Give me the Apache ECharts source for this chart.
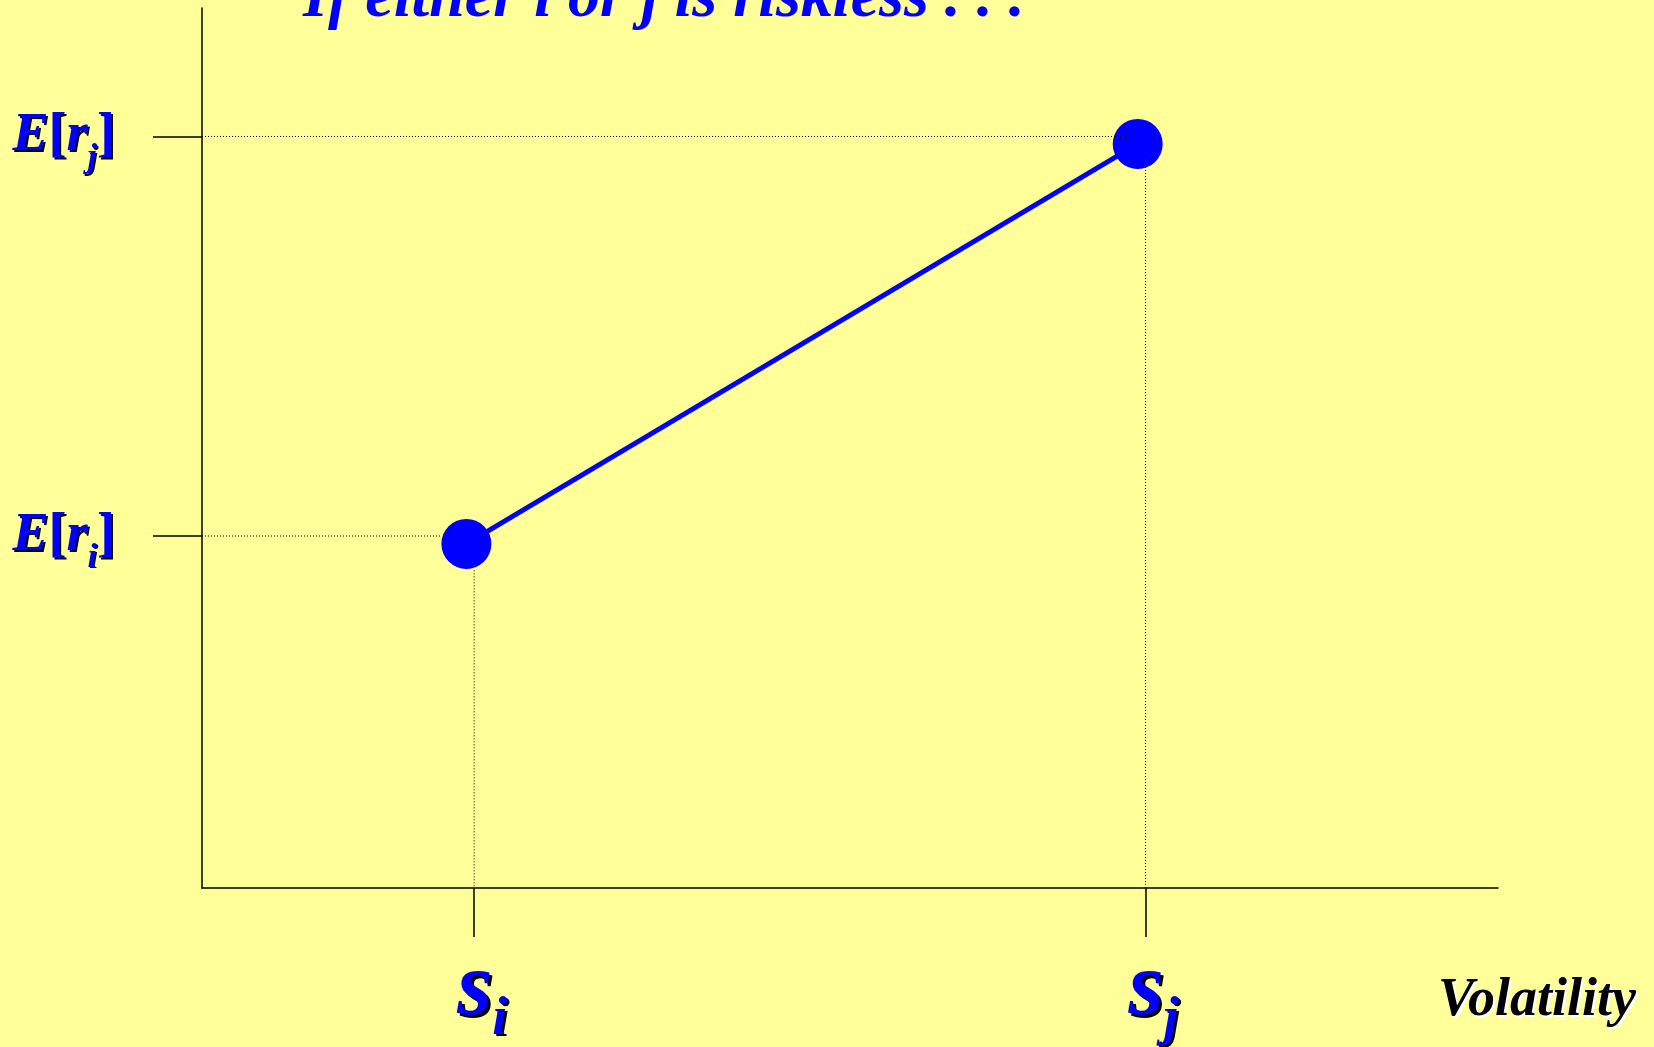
<!DOCTYPE html>
<html><head><meta charset="utf-8">
<script src="https://cdn.jsdelivr.net/npm/echarts@6/dist/echarts.min.js"></script>
<style>html,body{margin:0;padding:0;background:#FFFF99;} #c{width:1654px;height:1047px;}</style>
</head><body><div id="c"></div>
<script>
const titleText = 'If either i or j is riskless . . .';
const xAxisName = 'Volatility';
const xTickValues = [21, 72.8];
const xTickSubs = ['i', 'j'];
const yTickValues = [40, 85.4];
const yTickSubs = ['i', 'j'];
const assetVolatility = [20.4, 72.2];
const assetReturn = [39.1, 84.55];
const hGuideEnd = [18.5, 71.45];
const vGuideTop = [36.1, 83.3];

const SERIF = '"Liberation Serif","Times New Roman",serif';
const BLUE = '#0000FF';
const chart = echarts.init(document.getElementById('c'), null, {renderer: 'canvas'});

function tok(size, style, lh, pad, off) {
  return {fontFamily: SERIF, fontSize: size, fontWeight: 'bold', fontStyle: style,
    color: BLUE, lineHeight: lh, verticalAlign: 'bottom', padding: pad,
    textShadowColor: '#000', textShadowOffsetX: off, textShadowOffsetY: off, textShadowBlur: 0.5};
}

const series = [{
  type: 'line',
  data: assetVolatility.map((v, k) => [v, assetReturn[k]]),
  symbol: 'circle', symbolSize: 50, showSymbol: true,
  lineStyle: {color: BLUE, width: 5},
  itemStyle: {color: BLUE},
  z: 2, silent: true, animation: false
}];
const dotStyle = {color: '#000', width: 1, type: [1, 2]};
for (let k = 0; k < yTickValues.length; k++) {
  series.push({type: 'line', data: [[0, yTickValues[k]], [hGuideEnd[k], yTickValues[k]]],
    symbol: 'none', lineStyle: dotStyle, z: 3, silent: true, animation: false});
  series.push({type: 'line', data: [[xTickValues[k], vGuideTop[k]], [xTickValues[k], 0]],
    symbol: 'none', lineStyle: dotStyle, z: 3, silent: true, animation: false});
}

chart.setOption({
  backgroundColor: '#FFFF99',
  animation: false,
  title: [{
    text: titleText, left: 298, top: -38,
    textStyle: {fontFamily: SERIF, fontSize: 64, fontWeight: 'bold', fontStyle: 'italic', color: BLUE}
  }, {
    text: xAxisName, left: 1433, top: 969,
    textStyle: {fontFamily: SERIF, fontSize: 54, fontWeight: 'bold', fontStyle: 'italic', color: '#000',
      textShadowColor: '#FFFFFF', textShadowOffsetX: 2, textShadowOffsetY: 2, textShadowBlur: 0.5}
  }],
  grid: {left: 202, top: 8, width: 1296, height: 880, containLabel: false, outerBoundsMode: 'none'},
  xAxis: {
    type: 'value', min: 0, max: 100,
    axisLine: {show: true, lineStyle: {color: '#000', width: 1.5}},
    splitLine: {show: false},
    axisTick: {show: true, customValues: xTickValues, length: 49, inside: false, lineStyle: {color: '#000', width: 1.5}},
    axisLabel: {
      show: true, customValues: xTickValues, margin: 89,
      textShadowColor: '#000', textShadowOffsetX: 3, textShadowOffsetY: 3, textShadowBlur: 0.5,
      formatter: v => '{s|s}{sub|' + xTickSubs[xTickValues.indexOf(v)] + '}',
      rich: {
        s: tok(90, 'italic', 70, [0, 0, 11, 16], 3),
        sub: tok(54, 'italic', 54, [0, 0, 0, 0], 2.5)
      }
    }
  },
  yAxis: {
    type: 'value', min: 0, max: 100,
    axisLine: {show: true, lineStyle: {color: '#000', width: 1.5}},
    splitLine: {show: false},
    axisTick: {show: true, customValues: yTickValues, length: 49, inside: false, lineStyle: {color: '#000', width: 1.5}},
    axisLabel: {
      show: true, customValues: yTickValues, margin: 87, padding: [24, 0, 0, 0],
      textShadowColor: '#000', textShadowOffsetX: 2, textShadowOffsetY: 2, textShadowBlur: 0.5,
      formatter: v => '{E|E}{b|[}{r|r}{sub|' + yTickSubs[yTickValues.indexOf(v)] + '}{b|]}',
      rich: {
        E: tok(54, 'italic', 54, [0, 0, 12, 0], 2),
        b: tok(54, 'normal', 54, [0, 0, 12, 0], 2),
        r: tok(54, 'italic', 54, [0, 0, 12, 0], 2),
        sub: tok(34, 'italic', 34, [0, 0, 0, 0], 1.5)
      }
    }
  },
  series: series
});
</script></body></html>
